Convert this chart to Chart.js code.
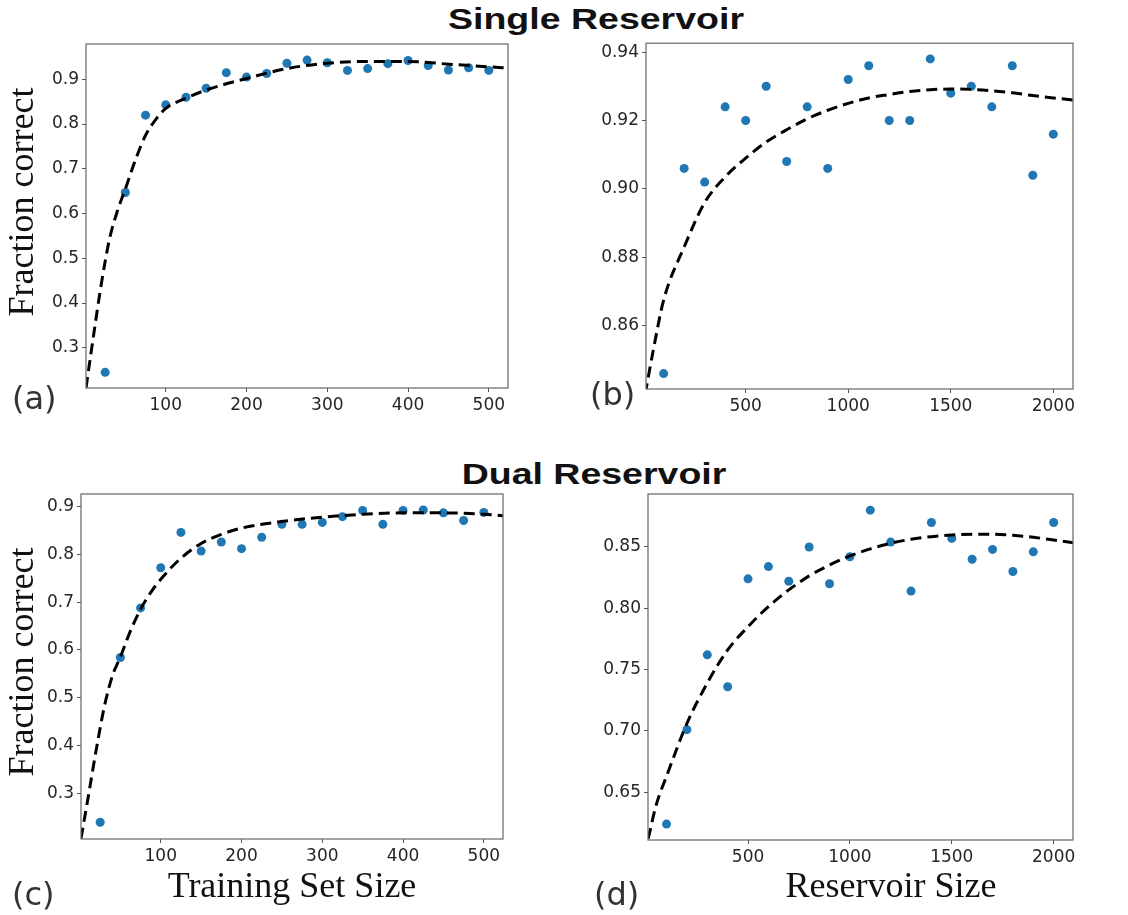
<!DOCTYPE html>
<html>
<head>
<meta charset="utf-8">
<script src="https://cdn.jsdelivr.net/npm/chart.js@4.4.0/dist/chart.umd.min.js"></script>
<style>
  body { margin: 0; background: #fff; width: 1128px; height: 915px; position: relative; overflow: hidden; }
  canvas { position: absolute; }
  .sup { position: absolute; font: bold 30px "Liberation Sans", Arial, sans-serif; line-height: 1;
         white-space: nowrap; color: #111; transform: translateX(-50%) scaleX(1.25); }
  .tag { position: absolute; font: 32px "DejaVu Sans", sans-serif; line-height: 1; color: #333; }
  .xlab { position: absolute; font: 36px "Liberation Serif", "Times New Roman", serif; line-height: 1;
          white-space: nowrap; color: #111; transform: translateX(-50%); }
  .ylab { position: absolute; font: 36px "Liberation Serif", "Times New Roman", serif; line-height: 1;
          white-space: nowrap; color: #111; transform: translate(-50%, -50%) rotate(-90deg); }
</style>
</head>
<body>
<div class="sup" style="left:596px; top:4px;">Single Reservoir</div>
<div class="sup" style="left:594px; top:459px;">Dual Reservoir</div>

<canvas id="chartA" width="540" height="395" style="left:0px; top:30px;"></canvas>
<canvas id="chartB" width="568" height="395" style="left:560px; top:30px;"></canvas>
<canvas id="chartC" width="540" height="400" style="left:0px; top:480px;"></canvas>
<canvas id="chartD" width="568" height="400" style="left:560px; top:480px;"></canvas>

<div class="ylab" style="left:21px; top:202px;">Fraction correct</div>
<div class="ylab" style="left:21px; top:662px;">Fraction correct</div>
<div class="xlab" style="left:292px; top:867px;">Training Set Size</div>
<div class="xlab" style="left:891px; top:867px;">Reservoir Size</div>
<div class="tag" style="left:12px; top:382px;">(a)</div>
<div class="tag" style="left:590px; top:378px;">(b)</div>
<div class="tag" style="left:12px; top:878px;">(c)</div>
<div class="tag" style="left:594px; top:878px;">(d)</div>

<script>
// ---- data ----
const trainSizes = [25, 50, 75, 100, 125, 150, 175, 200, 225, 250, 275, 300, 325, 350, 375, 400, 425, 450, 475, 500];
const resSizes = [100, 200, 300, 400, 500, 600, 700, 800, 900, 1000, 1100, 1200, 1300, 1400, 1500, 1600, 1700, 1800, 1900, 2000];

const singleTrainAcc = [0.245, 0.647, 0.820, 0.843, 0.860, 0.880, 0.915, 0.905, 0.913, 0.936, 0.943, 0.937, 0.920, 0.924, 0.935, 0.942, 0.931, 0.921, 0.926, 0.920];
const singleResAcc = [0.846, 0.906, 0.902, 0.924, 0.920, 0.930, 0.908, 0.924, 0.906, 0.932, 0.936, 0.920, 0.920, 0.938, 0.928, 0.930, 0.924, 0.936, 0.904, 0.916];
const dualTrainAcc = [0.239, 0.584, 0.688, 0.772, 0.846, 0.807, 0.826, 0.812, 0.836, 0.863, 0.863, 0.867, 0.879, 0.892, 0.863, 0.892, 0.893, 0.887, 0.871, 0.888];
const dualResAcc = [0.624, 0.701, 0.762, 0.736, 0.824, 0.834, 0.822, 0.850, 0.820, 0.842, 0.880, 0.854, 0.814, 0.870, 0.857, 0.840, 0.848, 0.830, 0.846, 0.870];

// dashed fit curves
const fitTrainX = [1.25, 10, 20, 30, 40, 50, 62.5, 75, 87.5, 100, 125, 150, 175, 200, 250, 300, 350, 400, 450, 500, 523.75];
const fitSingleTrainY = [0.21, 0.32, 0.44, 0.54, 0.605, 0.655, 0.72, 0.775, 0.81, 0.835, 0.858, 0.876, 0.89, 0.902, 0.924, 0.936, 0.940, 0.940, 0.934, 0.928, 0.925];
const fitDualTrainY = [0.205, 0.29, 0.39, 0.48, 0.545, 0.585, 0.64, 0.685, 0.72, 0.748, 0.792, 0.823, 0.842, 0.855, 0.869, 0.878, 0.884, 0.887, 0.887, 0.884, 0.881];

const fitResX = [10, 50, 100, 200, 300, 400, 500, 600, 700, 800, 900, 1000, 1100, 1200, 1300, 1400, 1500, 1600, 1700, 1800, 1900, 2000, 2096];
const fitSingleResY = [0.840, 0.853, 0.8675, 0.883, 0.896, 0.9035, 0.909, 0.9137, 0.9173, 0.9205, 0.923, 0.925, 0.9266, 0.9276, 0.9285, 0.929, 0.9292, 0.9291, 0.9287, 0.9281, 0.9273, 0.9266, 0.926];
const fitDualResY = [0.612, 0.64, 0.663, 0.706, 0.739, 0.766, 0.785, 0.8014, 0.815, 0.8264, 0.8353, 0.8427, 0.8484, 0.853, 0.8563, 0.8584, 0.8598, 0.8603, 0.8603, 0.8595, 0.8579, 0.8557, 0.8535];

// tick values shown on each axis
const trainTicks = [100, 200, 300, 400, 500];
const resTicks = [500, 1000, 1500, 2000];
const accTicksWide = [0.3, 0.4, 0.5, 0.6, 0.7, 0.8, 0.9];
const accTicksSingleRes = [0.86, 0.88, 0.90, 0.92, 0.94];
const accTicksDualRes = [0.65, 0.70, 0.75, 0.80, 0.85];

// ---- helpers ----
const toPts = (xs, ys) => xs.map((x, i) => ({ x: x, y: ys[i] }));

// matplotlib-like box around the axes
const frame = {
  id: 'frame',
  afterDraw(chart) {
    const { ctx, chartArea: a } = chart;
    ctx.save();
    ctx.strokeStyle = '#666';
    ctx.lineWidth = 1.2;
    ctx.strokeRect(a.left, a.top, a.right - a.left, a.bottom - a.top);
    ctx.restore();
  }
};

const tickFont = { family: '"DejaVu Sans", sans-serif', size: 17 };

function makePanel(id, xs, ys, fitX, fitY, o) {
  return new Chart(document.getElementById(id), {
    type: 'scatter',
    data: {
      datasets: [
        {
          data: toPts(fitX, fitY),
          showLine: true,
          borderColor: '#000',
          borderWidth: 3,
          borderDash: [11, 6],
          pointRadius: 0,
          cubicInterpolationMode: 'monotone'
        },
        {
          data: toPts(xs, ys),
          pointRadius: 4.5,
          pointBorderWidth: 0,
          backgroundColor: '#1f77b4',
          borderColor: '#1f77b4'
        }
      ]
    },
    options: {
      responsive: false,
      animation: false,
      events: [],
      layout: { padding: { top: o.padTop, right: o.padRight, left: 0, bottom: 0 } },
      plugins: { legend: { display: false }, tooltip: { enabled: false } },
      scales: {
        x: {
          type: 'linear',
          min: o.xMin, max: o.xMax,
          afterBuildTicks: (s) => { s.ticks = o.xTicks.map(v => ({ value: v })); },
          afterFit: (s) => { s.height = o.xHeight; },
          border: { display: false },
          grid: { drawOnChartArea: false, tickLength: 4, color: '#555' },
          ticks: { font: tickFont, color: '#262626', padding: 3, maxRotation: 0, autoSkip: false,
                   callback: (v) => String(v) }
        },
        y: {
          type: 'linear',
          min: o.yMin, max: o.yMax,
          afterBuildTicks: (s) => { s.ticks = o.yTicks.map(v => ({ value: v })); },
          afterFit: (s) => { s.width = o.yWidth; },
          border: { display: false },
          grid: { drawOnChartArea: false, tickLength: 4, color: '#555' },
          ticks: { font: tickFont, color: '#262626', padding: 3, autoSkip: false,
                   callback: (v) => v.toFixed(o.yDigits) }
        }
      }
    },
    plugins: [frame]
  });
}

// (a) single reservoir vs training set size
makePanel('chartA', trainSizes, singleTrainAcc, fitTrainX, fitSingleTrainY, {
  xMin: 1.25, xMax: 523.75, xTicks: trainTicks, yMin: 0.21, yMax: 0.979, yTicks: accTicksWide, yDigits: 1,
  padTop: 14, padRight: 32, yWidth: 86, xHeight: 37
});
// (b) single reservoir vs reservoir size
makePanel('chartB', resSizes, singleResAcc, fitResX, fitSingleResY, {
  xMin: 14, xMax: 2096, xTicks: resTicks, yMin: 0.8415, yMax: 0.9426, yTicks: accTicksSingleRes, yDigits: 2,
  padTop: 13, padRight: 55, yWidth: 86, xHeight: 36
});
// (c) dual reservoir vs training set size
makePanel('chartC', trainSizes, dualTrainAcc, fitTrainX, fitDualTrainY, {
  xMin: 1.25, xMax: 523.75, xTicks: trainTicks, yMin: 0.204, yMax: 0.9265, yTicks: accTicksWide, yDigits: 1,
  padTop: 14, padRight: 37, yWidth: 81, xHeight: 41
});
// (d) dual reservoir vs reservoir size
makePanel('chartD', resSizes, dualResAcc, fitResX, fitDualResY, {
  xMin: 9, xMax: 2095, xTicks: resTicks, yMin: 0.611, yMax: 0.8932, yTicks: accTicksDualRes, yDigits: 2,
  padTop: 14, padRight: 55, yWidth: 88, xHeight: 40
});
</script>
</body>
</html>
